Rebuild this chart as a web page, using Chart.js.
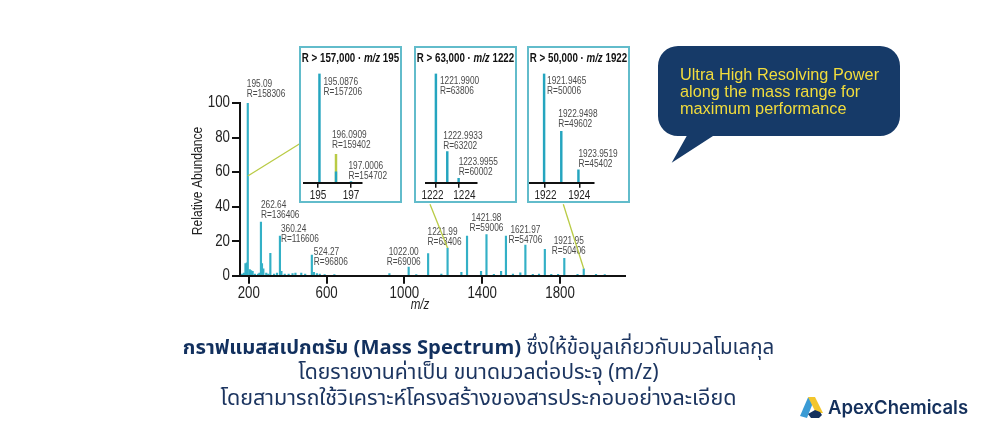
<!DOCTYPE html>
<html lang="th">
<head>
<meta charset="utf-8">
<title>Mass Spectrum</title>
<script src="https://cdn.jsdelivr.net/npm/chart.js@4"></script>
<style>
html, body { margin:0; padding:0; background:#fff; }
#page { position:relative; width:1000px; height:445px; overflow:hidden; }
#page canvas { position:absolute; }
.box { position:absolute; top:46px; width:99px; height:153px; border:2px solid #62bccb; }
.box-title { position:absolute; left:-40px; right:-40px; top:3px; text-align:center; white-space:nowrap;
  transform:scaleX(.78); font:bold 12.5px "Liberation Sans",sans-serif; color:#111; }
#bubble { position:absolute; left:0; top:0; }
#bubble-text { position:absolute; left:680px; top:65.5px; white-space:nowrap; color:#f2dc3c;
  font:16.3px/17.2px "Liberation Sans",Arial,sans-serif; }
#caption { position:absolute; left:0; width:957px; top:334.5px; text-align:center; color:#1c3560;
  font-family:"Noto Sans Thai","Noto Sans Thai Looped","Noto Sans",sans-serif; line-height:25.3px; white-space:nowrap; }
#caption b { color:#12305e; font-size:20.2px; }
#logo { position:absolute; left:828px; top:396px; color:#14305c; white-space:nowrap;
  font:600 18.5px/22px Inter,"Open Sans",sans-serif; }
</style>
</head>
<body>
<div id="page">
  <canvas id="mainChart" width="1000" height="445"></canvas>

  <div class="box" style="left:299px"><div class="box-title">R &gt; 157,000 · <i>m/z</i> 195</div></div>
  <div class="box" style="left:414px"><div class="box-title">R &gt; 63,000 · <i>m/z</i> 1222</div></div>
  <div class="box" style="left:527px"><div class="box-title">R &gt; 50,000 · <i>m/z</i> 1922</div></div>
  <canvas id="inset195" width="103" height="157" style="left:299px;top:46px"></canvas>
  <canvas id="inset1222" width="103" height="157" style="left:414px;top:46px"></canvas>
  <canvas id="inset1922" width="103" height="157" style="left:527px;top:46px"></canvas>

  <svg id="bubble" width="1000" height="445">
    <path d="M678 46H880a20 20 0 0 1 20 20V116a20 20 0 0 1 -20 20H713L671.7 162.7 686.7 136H678a20 20 0 0 1 -20 -20V66a20 20 0 0 1 20 -20Z" fill="#163a68"/>
    <path d="M808 397.5L815 397.5 807 418 800 416Z" fill="#3a9bd5"/>
    <path d="M808 397L815 397 823 413 816 413Z" fill="#f3c62c"/>
    <path d="M808 414L815 410 820 412 822 415 819 418 811 418Z" fill="#14305c"/>
  </svg>
  <div id="bubble-text">Ultra High Resolving Power<br>along the mass range for<br>maximum performance</div>

  <div id="caption">
    <div style="font-size:20.5px"><b>กราฟแมสสเปกตรัม (Mass Spectrum)</b> ซึ่งให้ข้อมูลเกี่ยวกับมวลโมเลกุล</div>
    <div style="font-size:21.2px">โดยรายงานค่าเป็น ขนาดมวลต่อประจุ (m/z)</div>
    <div style="font-size:21.5px">โดยสามารถใช้วิเคราะห์โครงสร้างของสารประกอบอย่างละเอียด</div>
  </div>
  <div id="logo">ApexChemicals</div>
</div>

<script>
// Data
const mainMz = [165,175,183,190,195,205,212,220,232,248,255,262.64,268,275,290,300,311,330,345,360.24,368,385,405,425,440,470,490,524.27,535,550,565,590,640,923,1022,1061,1122,1190,1221.99,1293,1322,1394,1421.98,1460,1497,1522,1558,1596,1621.97,1660,1692,1722,1755,1790,1822,1890,1921.95,1985,2030];
const mainAbundance = [1,1.5,7,7.5,100,3.5,3,2.5,1,1,1.5,31,7,4,1.5,1,13,1,1.5,23,2.5,1,1,1.2,1.5,1.5,1,12,2,1.2,1,.7,.5,1.2,5,.7,12.8,1,16,2,23,2.5,23.8,.8,2.5,23,1,1.6,17.8,.8,1,15.3,.8,.8,10,.8,4,.8,.5];
const mainXTicks = [200,600,1000,1400,1800];

const inset195Mz = [195.0876,196.0909,197.0006];
const inset195Abundance = [100,10,1];
const inset195UpperMz = [196.0909];
const inset195UpperAbundance = [26];
const inset195Ticks = [195,197];

const inset1222Mz = [1221.99,1222.9933,1223.9955];
const inset1222Abundance = [100,28.6,4];
const inset1222Ticks = [1222,1224];

const inset1922Mz = [1921.9465,1922.9498,1923.9519];
const inset1922Abundance = [100,47,11.7];
const inset1922Ticks = [1922,1924];

const FONT = '"Liberation Sans",sans-serif';
const TEAL = '#33b0c6';
const LIME = '#b9cb45';

function pts(xs, ys){
    return xs.map((x,i)=>({x:x, y:ys[i]}));
}

// The reference uses a narrow face, none is installed, so squeeze all canvas text
const squeezePlugin = {
    id:'squeeze',
    beforeInit(chart){
        const ctx = chart.ctx;
        const fill = ctx.fillText.bind(ctx);
        ctx.fillText = (t,x,y)=> fill(t, x, y, ctx.measureText(t).width * 0.83);
    }
};

// Two line peak notes, placed relative to the top of the peak
const notesPlugin = {
    id:'notes',
    afterDatasetsDraw(chart, args, opts){
        const ctx = chart.ctx;
        const x = chart.scales.x, y = chart.scales.y;
        ctx.save();
        ctx.font = '10px ' + FONT;
        ctx.fillStyle = '#4a4a4a';
        ctx.textBaseline = 'middle';
        opts.items.forEach(n=>{
            const px = x.getPixelForValue(n.mz) + n.dx;
            const py = y.getPixelForValue(n.top) + n.dy;
            ctx.textAlign = n.align || 'left';
            ctx.fillText(n.lines[0], px, py);
            ctx.fillText(n.lines[1], px, py + 10);
        });
        ctx.restore();
    }
};

// Inset tick labels: in the reference some sit off their tick marks
const insetTicksPlugin = {
    id:'insetTicks',
    afterDraw(chart, args, opts){
        const ctx = chart.ctx;
        const x = chart.scales.x;
        ctx.save();
        ctx.font = '12px ' + FONT;
        ctx.fillStyle = '#222';
        ctx.textAlign = 'center';
        ctx.textBaseline = 'middle';
        opts.values.forEach((v,i)=>{
            ctx.fillText(String(v), x.getPixelForValue(v) + opts.nudge[i], chart.chartArea.bottom + 12.5);
        });
        ctx.restore();
    }
};

// Axis names and the lime lines leading to the boxes
const mainExtras = {
    id:'mainExtras',
    afterDatasetsDraw(chart){
        const ctx = chart.ctx;
        const x = chart.scales.x, y = chart.scales.y;
        ctx.save();
        ctx.strokeStyle = LIME;
        ctx.lineWidth = 1.3;
        [[195,57.7,299.3,144],[1221.99,16,430,204.3],[1921.95,4,563.3,204.3]].forEach(l=>{
            ctx.beginPath();
            ctx.moveTo(x.getPixelForValue(l[0]), y.getPixelForValue(l[1]));
            ctx.lineTo(l[2], l[3]);
            ctx.stroke();
        });
        ctx.fillStyle = '#222';
        ctx.textAlign = 'center';
        ctx.textBaseline = 'middle';
        ctx.font = 'italic 14px ' + FONT;
        ctx.fillText('m/z', 420, 305);
        ctx.translate(198, 181);
        ctx.rotate(-Math.PI/2);
        ctx.font = '14.6px ' + FONT;
        ctx.fillText('Relative Abundance', 0, 0);
        ctx.restore();
    }
};

function tickList(values){
    return function(scale){ scale.ticks = values.map(v=>({value:v})); };
}

function plainTick(value){
    return String(value);
}

new Chart(document.getElementById('mainChart'), {
    type:'bar',
    data:{datasets:[{data:pts(mainMz, mainAbundance), backgroundColor:TEAL, barThickness:1.5}]},
    options:{
        responsive:false,
        animation:false,
        layout:{padding:{left:190, right:375, top:103, bottom:139.3}},
        plugins:{
            legend:{display:false},
            tooltip:{enabled:false},
            notes:{items:[
                {mz:195, top:100, lines:['195.09','R=158306'], dx:-1, dy:-19},
                {mz:262.64, top:31, lines:['262.64','R=136406'], dx:0, dy:-17},
                {mz:360.24, top:23, lines:['360.24','R=116606'], dx:1, dy:-7},
                {mz:524.27, top:12, lines:['524.27','R=96806'], dx:2, dy:-3},
                {mz:1022, top:5, lines:['1022.00','R=69006'], dx:-5, dy:-15, align:'center'},
                {mz:1221.99, top:16, lines:['1221.99','R=63406'], dx:-20, dy:-16},
                {mz:1421.98, top:23.8, lines:['1421.98','R=59006'], dx:0, dy:-16, align:'center'},
                {mz:1621.97, top:17.8, lines:['1621.97','R=54706'], dx:0, dy:-15, align:'center'},
                {mz:1921.95, top:4, lines:['1921.95','R=50406'], dx:-15, dy:-28, align:'center'}
            ]}
        },
        scales:{
            x:{
                type:'linear', min:155, max:2134, offset:false,
                afterBuildTicks:tickList(mainXTicks),
                afterFit(s){ s.height = 30; },
                border:{color:'#111', width:2, z:1},
                grid:{offset:false, drawOnChartArea:false, color:'#111', lineWidth:2, tickLength:8},
                ticks:{autoSkip:false, maxRotation:0, padding:0, color:'#222', font:{family:FONT, size:16}, callback:plainTick}
            },
            y:{
                min:0, max:100,
                afterFit(s){ s.width = 50; },
                border:{color:'#111', width:2},
                grid:{drawOnChartArea:false, color:'#111', lineWidth:2, tickLength:8},
                ticks:{stepSize:20, padding:2, color:'#222', font:{family:FONT, size:16}}
            }
        }
    },
    plugins:[squeezePlugin, notesPlugin, mainExtras]
});

function makeInset(id, datasets, ticks, nudge, range, pad, items){
    new Chart(document.getElementById(id), {
        type:'bar',
        data:{datasets:datasets},
        options:{
            responsive:false,
            animation:false,
            layout:{padding:{left:pad[0], right:pad[1], top:27.5, bottom:0}},
            plugins:{
                legend:{display:false},
                tooltip:{enabled:false},
                notes:{items:items},
                insetTicks:{values:ticks, nudge:nudge}
            },
            scales:{
                x:{
                    type:'linear', min:range[0], max:range[1], offset:false,
                    afterBuildTicks:tickList(ticks),
                    afterFit(s){ s.height = 20.3; },
                    border:{color:'#111', width:2, z:1},
                    grid:{offset:false, drawOnChartArea:false, color:'#111', lineWidth:1.5, tickLength:5},
                    ticks:{display:false, autoSkip:false, maxRotation:0}
                },
                y:{display:false, min:0, max:100}
            }
        },
        plugins:[squeezePlugin, notesPlugin, insetTicksPlugin]
    });
}

makeInset('inset195', [
    {data:pts(inset195Mz, inset195Abundance), backgroundColor:'#25a5bf', barThickness:1.8, grouped:false},
    {data:pts(inset195UpperMz, inset195UpperAbundance), backgroundColor:LIME, barThickness:1.8, grouped:false}
], inset195Ticks, [0,0], [194.15,197.65], [5,40.3], [
    {mz:195.0876, top:100, lines:['195.0876','R=157206'], dx:4, dy:9},
    {mz:196.0909, top:26, lines:['196.0909','R=159402'], dx:-4, dy:-19},
    {mz:197.0006, top:1, lines:['197.0006','R=154702'], dx:-2.5, dy:-15}
]);

makeInset('inset1222', [
    {data:pts(inset1222Mz, inset1222Abundance), backgroundColor:'#25a5bf', barThickness:1.8}
], inset1222Ticks, [-3.5,5.7], [1221.09,1225.59], [11.7,40.3], [
    {mz:1221.99, top:100, lines:['1221.9900','R=63806'], dx:4, dy:8},
    {mz:1222.9933, top:28.6, lines:['1222.9933','R=63202'], dx:-4, dy:-15},
    {mz:1223.9955, top:4, lines:['1223.9955','R=60002'], dx:0, dy:-16}
]);

makeInset('inset1922', [
    {data:pts(inset1922Mz, inset1922Abundance), backgroundColor:'#25a5bf', barThickness:1.8}
], inset1922Ticks, [0.5,0], [1921.14,1924.82], [3.3,36.7], [
    {mz:1921.9465, top:100, lines:['1921.9465','R=50006'], dx:3, dy:8},
    {mz:1922.9498, top:47, lines:['1922.9498','R=49602'], dx:-3, dy:-17},
    {mz:1923.9519, top:11.7, lines:['1923.9519','R=45402'], dx:0, dy:-16}
]);
</script>
</body>
</html>
